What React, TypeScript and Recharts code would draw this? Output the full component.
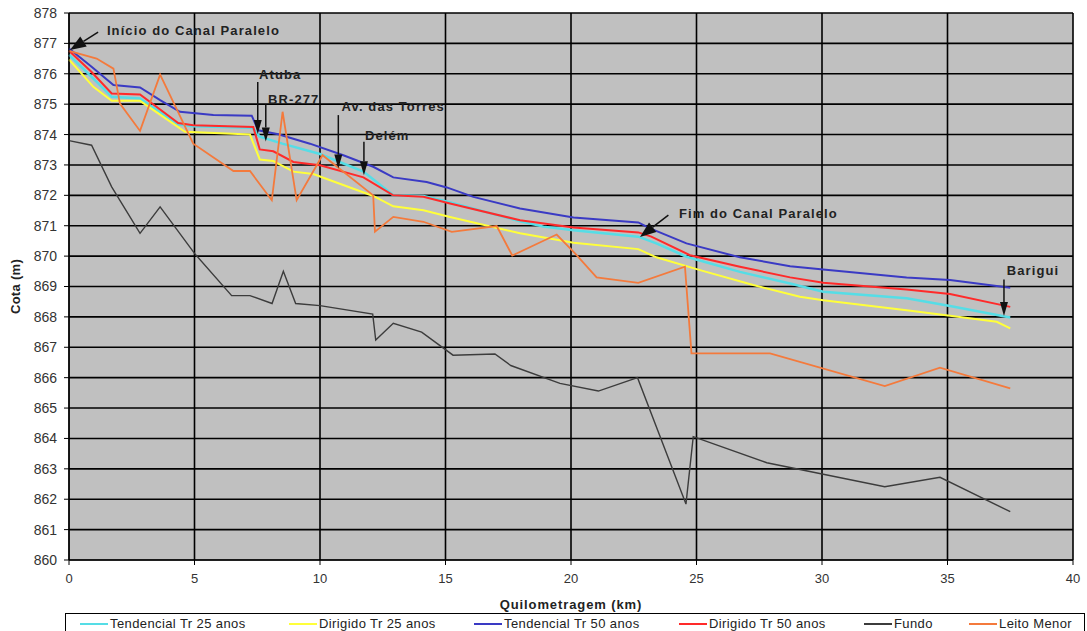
import React from 'react';
import { LineChart, Line, XAxis, YAxis, CartesianGrid, ReferenceLine, ReferenceDot, Label } from 'recharts';

// Quilometragem (km) / Cota (m)
const kmTendencial25 = [0, 0.9, 1.7, 2.83, 4.35, 4.95, 7.3, 7.6, 8.5, 10.0, 11.73, 12.92, 14.12, 15.05, 17.97, 18.9, 20.1, 22.68, 23.4, 24.6, 26.73, 28.73, 30.05, 33.37, 35.1, 37.5];
const cotaTendencial25 = [876.62, 875.9, 875.24, 875.19, 874.34, 874.27, 874.22, 873.93, 873.7, 873.36, 872.78, 872.0, 871.98, 871.8, 871.15, 870.97, 870.85, 870.64, 870.42, 869.98, 869.48, 869.1, 868.83, 868.61, 868.36, 867.98];

const kmDirigido25 = [0, 0.97, 1.7, 2.83, 4.62, 7.21, 7.6, 8.14, 8.94, 9.73, 12.12, 12.92, 14.12, 15.18, 17.97, 20.1, 22.68, 23.4, 25.14, 27.26, 29.12, 30.05, 33.37, 35.1, 36.96, 37.5];
const cotaDirigido25 = [876.47, 875.57, 875.11, 875.11, 874.09, 874.0, 873.18, 873.13, 872.78, 872.7, 871.98, 871.64, 871.51, 871.29, 870.75, 870.44, 870.23, 869.96, 869.54, 869.05, 868.66, 868.55, 868.22, 868.04, 867.84, 867.62];

const kmTendencial50 = [0, 0.9, 1.77, 2.83, 3.63, 4.42, 5.75, 7.28, 7.54, 8.34, 9.6, 10.93, 12.12, 12.92, 14.25, 15.05, 16.11, 17.97, 20.1, 22.68, 23.15, 24.6, 26.73, 28.73, 30.05, 33.37, 35.1, 37.5];
const cotaTendencial50 = [876.83, 876.23, 875.63, 875.55, 875.13, 874.75, 874.64, 874.62, 874.14, 874.01, 873.7, 873.32, 872.94, 872.59, 872.44, 872.26, 871.95, 871.57, 871.27, 871.11, 870.91, 870.42, 869.96, 869.67, 869.56, 869.3, 869.21, 868.96];

const kmDirigido50 = [0, 0.9, 1.7, 2.83, 4.35, 4.95, 7.34, 7.6, 8.14, 8.94, 10.0, 11.73, 12.92, 14.12, 15.18, 17.97, 20.1, 22.68, 23.2, 24.74, 26.73, 28.73, 30.05, 33.37, 35.1, 37.5];
const cotaDirigido50 = [876.76, 876.06, 875.35, 875.32, 874.38, 874.31, 874.25, 873.51, 873.45, 873.1, 872.99, 872.59, 872.0, 871.95, 871.73, 871.18, 870.94, 870.78, 870.64, 870.03, 869.65, 869.3, 869.12, 868.9, 868.75, 868.33];

const kmFundo = [0, 0.9, 1.7, 2.83, 3.63, 5.0, 6.48, 7.21, 8.09, 8.54, 9.03, 10.0, 12.1, 12.22, 12.92, 14.05, 15.3, 16.97, 17.6, 19.56, 21.09, 22.65, 24.58, 24.87, 27.8, 32.5, 34.7, 37.5];
const cotaFundo = [873.8, 873.65, 872.28, 870.75, 871.62, 870.09, 868.7, 868.7, 868.44, 869.5, 868.44, 868.37, 868.09, 867.24, 867.79, 867.5, 866.74, 866.78, 866.4, 865.81, 865.56, 866.0, 861.84, 864.06, 863.2, 862.41, 862.72, 861.59];

const kmLeito = [0, 1.1, 1.77, 2.03, 2.83, 3.63, 4.95, 6.55, 7.21, 8.08, 8.51, 9.07, 10.1, 12.12, 12.19, 12.92, 14.12, 15.25, 17.04, 17.66, 19.43, 20.16, 21.02, 22.68, 24.54, 24.8, 27.93, 32.5, 34.7, 37.5];
const cotaLeito = [876.75, 876.5, 876.17, 875.02, 874.12, 875.97, 873.7, 872.8, 872.8, 871.84, 874.75, 871.84, 873.32, 872.0, 870.8, 871.29, 871.13, 870.8, 870.99, 870.02, 870.71, 870.09, 869.3, 869.12, 869.65, 866.8, 866.8, 865.72, 866.33, 865.65];

const xTicks = [0, 5, 10, 15, 20, 25, 30, 35, 40];
const yTicks = [860, 861, 862, 863, 864, 865, 866, 867, 868, 869, 870, 871, 872, 873, 874, 875, 876, 877, 878];

// annotations: label anchor (left / middle of text) and arrow from -> to
const annotations = [
  { text: 'Início do Canal Paralelo', labelKm: 1.51, labelCota: 877.43, fromKm: 1.16, fromCota: 877.37, toKm: 0.04, toCota: 876.78, big: true },
  { text: 'Atuba', labelKm: 7.57, labelCota: 875.99, fromKm: 7.52, fromCota: 875.73, toKm: 7.52, toCota: 874.02, big: false },
  { text: 'BR-277', labelKm: 7.93, labelCota: 875.16, fromKm: 7.84, fromCota: 875.0, toKm: 7.84, toCota: 873.77, big: false },
  { text: 'Av. das Torres', labelKm: 10.86, labelCota: 874.94, fromKm: 10.73, fromCota: 874.64, toKm: 10.73, toCota: 872.88, big: false },
  { text: 'Delém', labelKm: 11.79, labelCota: 873.98, fromKm: 11.75, fromCota: 873.76, toKm: 11.75, toCota: 872.66, big: false },
  { text: 'Fim do Canal Paralelo', labelKm: 24.3, labelCota: 871.4, fromKm: 23.88, fromCota: 871.35, toKm: 22.75, toCota: 870.63, big: true },
  { text: 'Barigui', labelKm: 37.36, labelCota: 869.54, fromKm: 37.25, fromCota: 869.23, toKm: 37.25, toCota: 868.03, big: false },
];

const toPoints = (km: number[], cota: number[]) => km.map((k, i) => ({ km: k, cota: cota[i] }));

const series = [
  { name: 'Tendencial Tr 25 anos', color: '#55dde6', width: 2.5, data: toPoints(kmTendencial25, cotaTendencial25) },
  { name: 'Dirigido Tr 25 anos', color: '#ffff3a', width: 2, data: toPoints(kmDirigido25, cotaDirigido25) },
  { name: 'Tendencial Tr 50 anos', color: '#3a3ac4', width: 2, data: toPoints(kmTendencial50, cotaTendencial50) },
  { name: 'Dirigido Tr 50 anos', color: '#ff2a2a', width: 2, data: toPoints(kmDirigido50, cotaDirigido50) },
  { name: 'Fundo', color: '#3c3c3c', width: 1.4, data: toPoints(kmFundo, cotaFundo) },
  { name: 'Leito Menor', color: '#f47a3c', width: 1.8, data: toPoints(kmLeito, cotaLeito) },
];

// width of each legend slot, as laid out in the original legend box
const legendSlots = [209, 185, 205, 185, 105, 110];

const FONT = "'Liberation Sans', Arial, sans-serif";

const arrowShape = (head: number, half: number) => (p: any) => {
  const { x1, y1, x2, y2 } = p;
  const dx = x2 - x1;
  const dy = y2 - y1;
  const len = Math.hypot(dx, dy) || 1;
  const ux = dx / len;
  const uy = dy / len;
  const bx = x2 - ux * head;
  const by = y2 - uy * head;
  const nx = -uy * half;
  const ny = ux * half;
  return (
    <g>
      <line x1={x1} y1={y1} x2={bx} y2={by} stroke="#111" strokeWidth={1.5} />
      <polygon points={`${x2},${y2} ${bx + nx},${by + ny} ${bx - nx},${by - ny}`} fill="#111" />
    </g>
  );
};

const LegendBox = () => (
  <div
    style={{
      position: 'absolute',
      left: 65,
      top: 613,
      width: 1020,
      height: 22,
      border: '1px solid #000',
      background: '#fff',
      display: 'flex',
      alignItems: 'flex-start',
      padding: '2px 0 0 14px',
      boxSizing: 'border-box',
      overflow: 'hidden',
      fontFamily: FONT,
      fontSize: 13,
      letterSpacing: 0.4,
      color: '#222',
    }}
  >
    {series.map((s, i) => (
      <div
        key={s.name}
        style={{ display: 'flex', alignItems: 'center', whiteSpace: 'nowrap', width: legendSlots[i], flexShrink: 0 }}
      >
        <span style={{ display: 'inline-block', width: 28, height: 2, background: s.color, marginRight: 2 }} />
        <span>{s.name}</span>
      </div>
    ))}
  </div>
);

export default function App() {
  return (
    <div style={{ position: 'absolute', left: 0, top: 0, width: 1087, height: 631, background: '#fff', overflow: 'hidden' }}>
      <LineChart
        width={1087}
        height={631}
        margin={{ top: 13, right: 14, bottom: 0, left: 0 }}
        style={{ fontFamily: FONT }}
      >
        <CartesianGrid fill="#c0c0c0" fillOpacity={1} stroke="#000" strokeWidth={1.6} />
        <XAxis
          dataKey="km"
          type="number"
          domain={[0, 40]}
          ticks={xTicks}
          allowDuplicatedCategory={false}
          height={71}
          stroke="#000"
          tickSize={5}
          tickMargin={9}
          tick={{ fill: '#333', fontSize: 13 }}
        >
          <Label
            value="Quilometragem (km)"
            position="insideBottom"
            offset={22}
            fill="#222"
            fontSize={13}
            fontWeight="bold"
            style={{ letterSpacing: 0.9 }}
          />
        </XAxis>
        <YAxis
          dataKey="cota"
          type="number"
          domain={[860, 878]}
          ticks={yTicks}
          width={69}
          stroke="#000"
          tickSize={5}
          tickMargin={7}
          tick={{ fill: '#333', fontSize: 14 }}
          interval={0}
        >
          <Label
            value="Cota (m)"
            angle={-90}
            position="insideLeft"
            offset={15}
            fill="#222"
            fontSize={13}
            fontWeight="bold"
            style={{ textAnchor: 'middle', letterSpacing: 0.3 }}
          />
        </YAxis>
        {series.map((s) => (
          <Line
            key={s.name}
            data={s.data}
            dataKey="cota"
            name={s.name}
            type="linear"
            stroke={s.color}
            strokeWidth={s.width}
            dot={false}
            activeDot={false}
            isAnimationActive={false}
          />
        ))}
        {annotations.map((a) => (
          <ReferenceLine
            key={`arrow-${a.text}`}
            segment={[
              { x: a.fromKm, y: a.fromCota },
              { x: a.toKm, y: a.toCota },
            ]}
            shape={a.big ? arrowShape(16, 6) : arrowShape(14, 4)}
          />
        ))}
        {annotations.map((a) => (
          <ReferenceDot
            key={`label-${a.text}`}
            x={a.labelKm}
            y={a.labelCota}
            r={0}
            fill="none"
            stroke="none"
            label={
              <Label
                value={a.text}
                position="right"
                offset={0}
                fill="#222"
                fontSize={13}
                fontWeight="bold"
                style={{ letterSpacing: 1.1 }}
              />
            }
          />
        ))}
      </LineChart>
      <LegendBox />
    </div>
  );
}
